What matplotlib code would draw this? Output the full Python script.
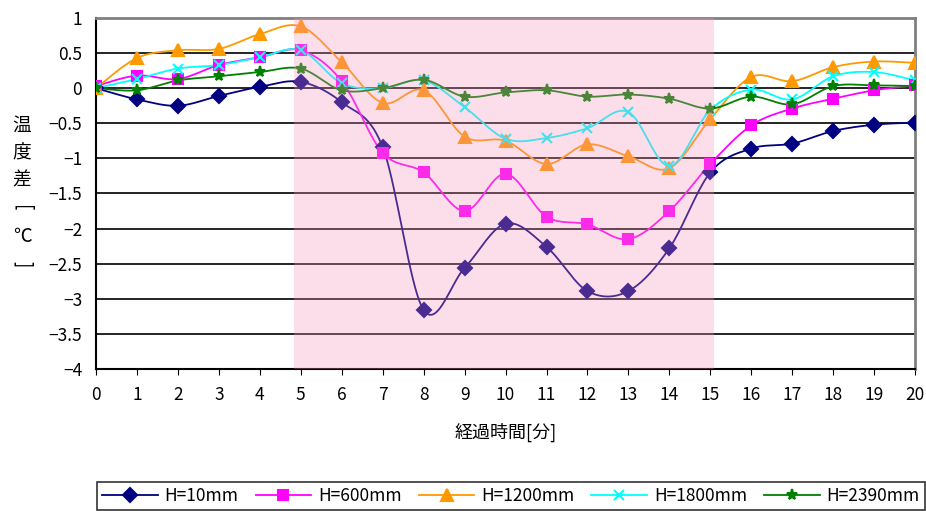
import numpy as np
import matplotlib.pyplot as plt

plt.rcParams['font.family'] = ['Noto Sans CJK JP', 'DejaVu Sans']

minutes = list(range(21))
h10 = [0, -0.16, -0.25, -0.11, 0.02, 0.09, -0.2, -0.84, -3.16, -2.56, -1.93, -2.26, -2.89, -2.89, -2.28, -1.2, -0.86, -0.79, -0.61, -0.52, -0.49]
h600 = [0.03, 0.18, 0.13, 0.33, 0.44, 0.54, 0.1, -0.92, -1.2, -1.75, -1.22, -1.83, -1.94, -2.15, -1.75, -1.08, -0.53, -0.29, -0.15, -0.03, 0.04]
h1200 = [0, 0.43, 0.54, 0.56, 0.77, 0.88, 0.37, -0.21, -0.03, -0.69, -0.75, -1.08, -0.8, -0.97, -1.14, -0.44, 0.16, 0.1, 0.3, 0.38, 0.36]
h1800 = [0, 0.13, 0.28, 0.33, 0.44, 0.54, 0.07, 0.0, 0.11, -0.27, -0.72, -0.71, -0.57, -0.34, -1.11, -0.31, -0.02, -0.16, 0.17, 0.23, 0.11]
h2390 = [0, -0.03, 0.11, 0.17, 0.23, 0.28, -0.03, 0.0, 0.12, -0.12, -0.06, -0.03, -0.12, -0.09, -0.15, -0.29, -0.12, -0.23, 0.03, 0.04, 0.03]
labels = ['H=10mm', 'H=600mm', 'H=1200mm', 'H=1800mm', 'H=2390mm']
shade_start, shade_end = 4.83, 15.08


def smooth(x, y, n=20):
    # excel-like smoothed line (bezier, catmull-rom style)
    p = np.column_stack([x, y]).astype(float)
    ext = np.vstack([p[0], p, p[-1]])
    t = np.linspace(0, 1, n)[:, None]
    out = []
    for i in range(len(p) - 1):
        p0, p1, p2, p3 = ext[i], ext[i + 1], ext[i + 2], ext[i + 3]
        c1 = p1 + (p2 - p0) / 6
        c2 = p2 - (p3 - p1) / 6
        seg = (1 - t) ** 3 * p1 + 3 * (1 - t) ** 2 * t * c1 + 3 * (1 - t) * t ** 2 * c2 + t ** 3 * p2
        out.append(seg if i == 0 else seg[1:])
    out = np.vstack(out)
    return out[:, 0], out[:, 1]


fig = plt.figure(figsize=(9.26, 5.11), dpi=100)
ax = fig.add_axes([0.1037, 0.2779, 0.8845, 0.6869])

styles = [
    ('#000080', 'D', 7),
    ('#FF00FF', 's', 7),
    ('#FF9900', '^', 9),
    ('#00FFFF', 'x', 7),
    ('#008000', '*', 8),
]
series = [h10, h600, h1200, h1800, h2390]
handles = []
for ys, (c, m, ms), lab in zip(series, styles, labels):
    sx, sy = smooth(minutes, ys)
    ax.plot(sx, sy, color=c, lw=1.3, zorder=3)
    ax.plot(minutes, ys, ls='none', marker=m, ms=ms, color=c, mec=c, mew=1.5, zorder=4)
    h, = ax.plot([], [], color=c, lw=1.3, marker=m, ms=ms, mec=c, mew=1.5, label=lab)
    handles.append(h)

ax.axvspan(shade_start, shade_end, color=(0.97, 0.57, 0.73), alpha=0.3, lw=0, zorder=5)

for yv in np.arange(-3.5, 1.0, 0.5):
    ax.axhline(yv, color='black', lw=1.2, zorder=1)

ax.set_xlim(0, 20)
ax.set_ylim(-4, 1)
ax.set_xticks(minutes)
ax.set_yticks(np.arange(-4, 1.01, 0.5))
ax.set_yticklabels(['−4', '−3.5', '−3', '−2.5', '−2', '−1.5', '−1', '−0.5', '0', '0.5', '1'])
ax.tick_params(axis='both', labelsize=12.5, length=4, color='black')
ax.tick_params(axis='x', pad=8)
ax.tick_params(axis='y', length=0, pad=10)
ax.spines['top'].set_color('#808080')
ax.spines['right'].set_color('#808080')
ax.spines['top'].set_linewidth(2)
ax.spines['right'].set_linewidth(2)
ax.spines['left'].set_linewidth(1.5)
ax.spines['bottom'].set_linewidth(1.5)

ax.set_xlabel('経過時間[分]', fontsize=13, labelpad=14)

# vertical y label, one character per line
ylab_chars = ['温', '度', '差', '[', '℃', ']']
ylab_rows = [125, 153, 180, 208, 236, 264]
for ch, yp in zip(ylab_chars, ylab_rows):
    rot = -90 if ch in '[]' else 0
    fig.text(22 / 926, 1 - yp / 511, ch, fontsize=13.5, ha='center', va='center', rotation=rot)

leg = fig.legend(handles=handles, loc='lower left', bbox_to_anchor=(97 / 926, 1 / 511, 828 / 926, 32 / 511),
                 mode='expand', ncol=5, fontsize=12.5, frameon=True, fancybox=False, edgecolor='black',
                 handlelength=3.2, handletextpad=0.4, borderpad=0.3, borderaxespad=0)
leg.get_frame().set_linewidth(1.2)

fig.savefig('out.png', dpi=100)
